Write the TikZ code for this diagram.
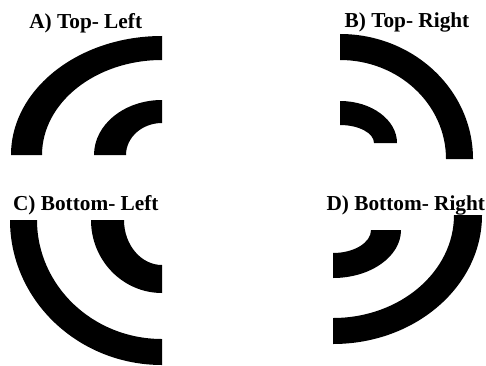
\documentclass[tikz,border=0pt]{standalone}
\usepackage{fontspec}
\setmainfont{Liberation Serif}
\begin{document}
\begin{tikzpicture}[x=1pt,y=1pt,
  band/.style={fill=black,draw=none},
  lbl/.style={anchor=base,inner sep=0pt,font=\fontsize{21.3}{24}\selectfont\bfseries}]
\useasboundingbox (0,0) rectangle (486,365);
% A) top-left, centre (162,210)
\fill[band] (162,329) arc[start angle=90,end angle=180,x radius=151,y radius=119]
  -- (42,210) arc[start angle=180,end angle=90,x radius=120,y radius=95] -- cycle;
\fill[band] (162,265) arc[start angle=90,end angle=180,x radius=68,y radius=55]
  -- (126,210) arc[start angle=180,end angle=90,x radius=36,y radius=32] -- cycle;
% B) top-right
\fill[band] (340,331) arc[start angle=90,end angle=0,x radius=133,y radius=125]
  -- (446,206) arc[start angle=0,end angle=90,x radius=106,y radius=99] -- cycle;
\fill[band] (340,264) arc[start angle=90,end angle=0,x radius=57,y radius=42]
  -- (374,222) arc[start angle=0,end angle=90,x radius=34,y radius=18] -- cycle;
% C) bottom-left, centre (162,145)
\fill[band] (10,145) arc[start angle=180,end angle=270,x radius=152,y radius=145]
  -- (162,26) arc[start angle=270,end angle=180,x radius=125,y radius=119] -- cycle;
\fill[band] (91,145) arc[start angle=180,end angle=270,x radius=71,y radius=73]
  -- (162,100) arc[start angle=270,end angle=180,x radius=38,y radius=45] -- cycle;
% D) bottom-right
\fill[band] (482,150) arc[start angle=0,end angle=-90,x radius=149,y radius=129]
  -- (333,47) arc[start angle=-90,end angle=0,x radius=121,y radius=103] -- cycle;
\fill[band] (401,135) arc[start angle=0,end angle=-90,x radius=68,y radius=48]
  -- (333,112) arc[start angle=-90,end angle=0,x radius=38,y radius=23] -- cycle;
% labels
\node[lbl] (la) at (85.7,336) {A) Top- Left};
\node[lbl] (lb) at (407,337) {B) Top- Right};
\node[lbl] (lc) at (85.8,155) {C) Bottom- Left};
\node[lbl] (ld) at (405.8,155) {D) Bottom- Right};
\end{tikzpicture}
\end{document}
